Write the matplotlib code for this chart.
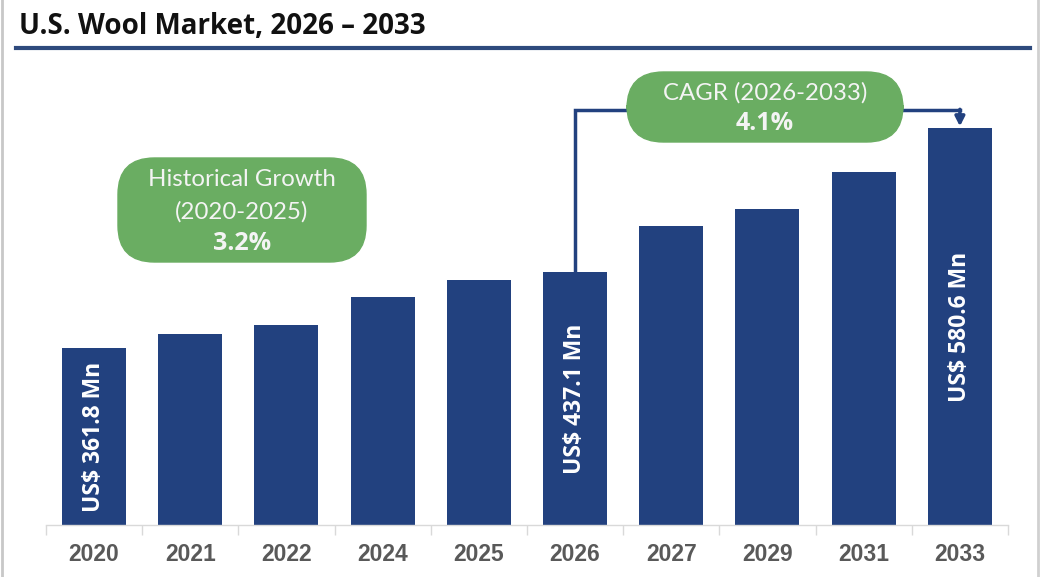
import matplotlib
matplotlib.use("Agg")
import matplotlib.pyplot as plt
from matplotlib.patches import FancyBboxPatch
from matplotlib.lines import Line2D

# data
years = ["2020", "2021", "2022", "2024", "2025", "2026", "2027", "2029", "2031", "2033"]
values = [361.8, 375.7, 384.6, 412.5, 429.4, 437.1, 483.0, 499.8, 536.6, 580.6]
labeled = {0: "US$ 361.8 Mn", 5: "US$ 437.1 Mn", 9: "US$ 580.6 Mn"}
hist_text = ["Historical Growth", "(2020-2025)", "3.2%"]
cagr_text = ["CAGR (2026-2033)", "4.1%"]

W, H = 1040, 577
navy = "#22417f"
green = "#6aad62"
box_txt = "#f4f4f4"

fig = plt.figure(figsize=(W / 100, H / 100), dpi=100)


def fx(x):
    return x / W


def fy(y):
    return 1 - y / H


# plot area
ax = fig.add_axes([fx(45.9), fy(525), fx(1008 - 45.9), (525 - 60) / H])
x = list(range(len(years)))
ax.bar(x, values, width=0.665, color=navy, zorder=2)
ax.set_xlim(-0.5, len(years) - 0.5)
ax.set_ylim(186, 648)

for s in ["top", "right", "left"]:
    ax.spines[s].set_visible(False)
ax.spines["bottom"].set_color("#d9d9d9")
ax.spines["bottom"].set_linewidth(1)
ax.set_yticks([])
ax.set_xticks(x)
ax.set_xticklabels(years, fontsize=16.5, fontweight="bold", color="#595959",
                   family="Liberation Sans")
ax.tick_params(axis="x", which="major", length=0, pad=13)
ax.set_xticks([i - 0.5 for i in range(len(years) + 1)], minor=True)
ax.tick_params(axis="x", which="minor", length=7, color="#d9d9d9", width=1)

# value labels inside bars
for i, txt in labeled.items():
    ax.text(i, 186 + (values[i] - 186) / 2, txt, rotation=90, ha="center", va="center",
            color="white", fontsize=16.5, fontweight="bold", family="Open Sans")

# connector from 2026 bar to 2033 bar
y_line = 598
ax.plot([5, 5, 9], [values[5], y_line, y_line], color=navy, lw=2.5,
        clip_on=False, zorder=3, solid_joinstyle="miter")
ax.annotate("", xy=(9, values[9] + 1.5), xytext=(9, y_line + 1),
            arrowprops=dict(arrowstyle="-|>,head_length=0.55,head_width=0.28",
                            color=navy, lw=2.5, shrinkA=0, shrinkB=0),
            annotation_clip=False, zorder=3)

# green callout boxes (figure pixel coords)
def callout(x0, y0, x1, y1, lines, line_y):
    box = FancyBboxPatch((fx(x0), fy(y1)), fx(x1 - x0), (y1 - y0) / H,
                         boxstyle="round,pad=0,rounding_size=0.035",
                         transform=fig.transFigure, facecolor=green,
                         edgecolor=green, zorder=5, mutation_aspect=W / H)
    fig.add_artist(box)
    cx = (x0 + x1) / 2
    for k, (txt, yy) in enumerate(zip(lines, line_y)):
        if k == len(lines) - 1:
            fig.text(fx(cx), fy(yy), txt, ha="center", va="center", color=box_txt,
                     fontsize=18, fontweight="bold", family="Open Sans", zorder=6)
        else:
            fig.text(fx(cx), fy(yy), txt, ha="center", va="center", color=box_txt,
                     fontsize=17.3, family="Lato", zorder=6)


callout(118, 158, 366, 262, hist_text, [180, 212, 243])
callout(627, 72, 903, 142, cagr_text, [93, 124])

# title and rule
fig.text(fx(19), fy(27), "U.S. Wool Market, 2026 \u2013 2033", ha="left", va="center",
         fontsize=20, fontweight="bold", color="#111111", family="Open Sans")
fig.add_artist(Line2D([fx(16), fx(1030)], [fy(48), fy(48)], color="#2e4a7d", lw=3,
                      transform=fig.transFigure))
# frame edges
fig.add_artist(Line2D([fx(1.5), fx(1.5)], [0, 1], color="#c8c8c8", lw=2,
                      transform=fig.transFigure))
fig.add_artist(Line2D([fx(1037.5), fx(1037.5)], [0, 1], color="#d0d0d0", lw=2,
                      transform=fig.transFigure))

fig.savefig("out.png", dpi=100)
